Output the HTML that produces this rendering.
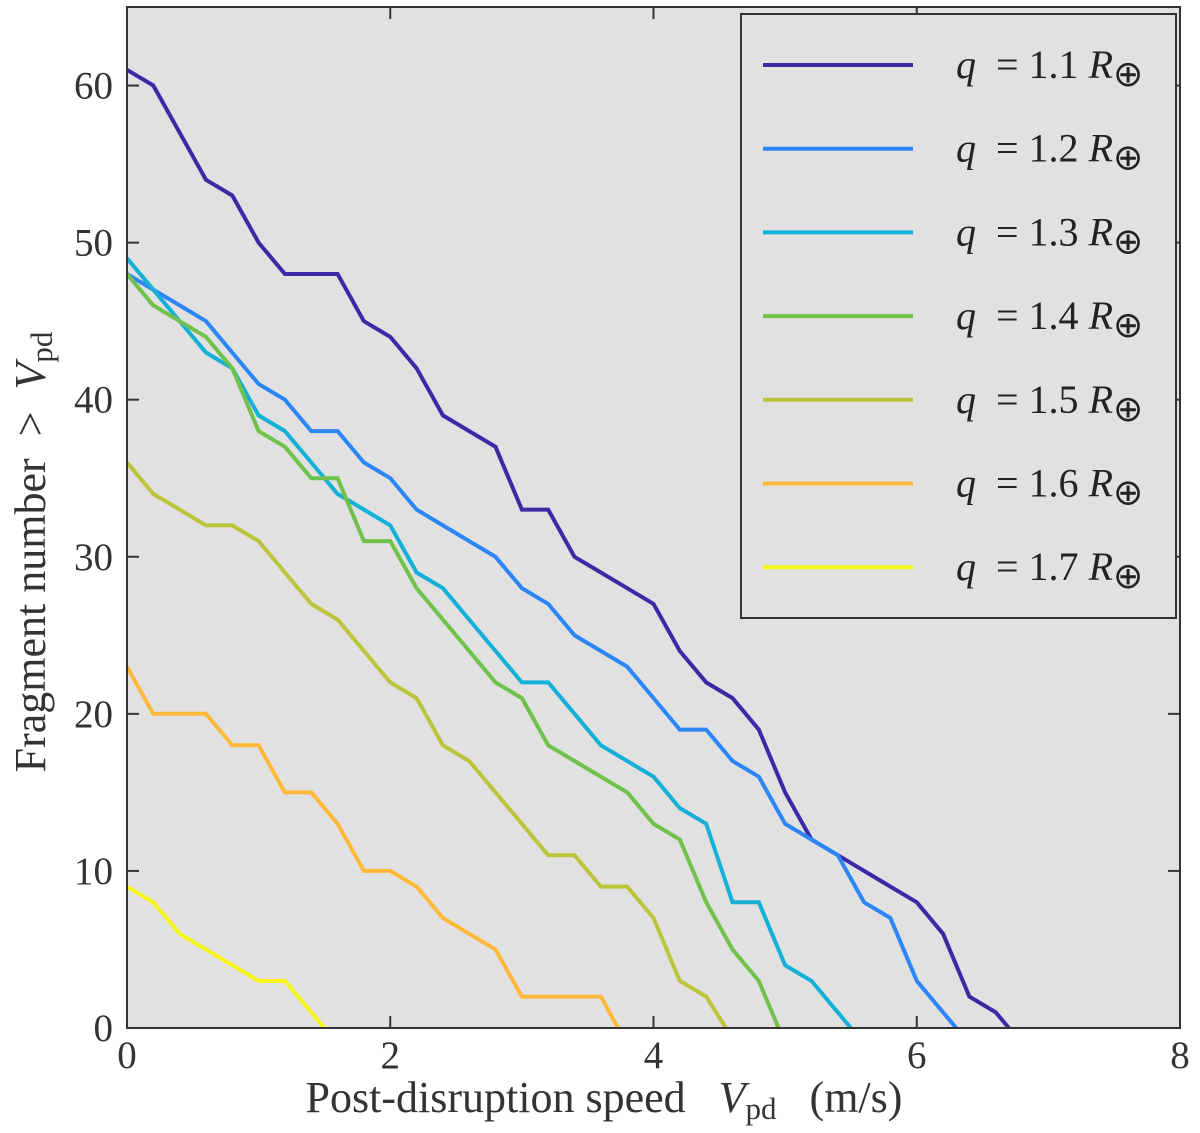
<!DOCTYPE html>
<html><head><meta charset="utf-8"><style>
body{margin:0;background:#fff;}
svg{display:block;font-family:"Liberation Serif",serif;}
text{white-space:pre;}
</style></head><body>
<svg id="chart" width="1200" height="1133" viewBox="0 0 1200 1133" xmlns="http://www.w3.org/2000/svg">
<rect x="127" y="7" width="1053" height="1021" fill="#e1e1e1"/>
<g id="series"></g>
<g id="axes"></g>
<text x="604" y="1112" font-size="44" fill="#333" text-anchor="middle">Post-disruption speed   <tspan font-style="italic">V</tspan><tspan font-size="31" dy="7">pd</tspan><tspan dy="-7">   (m/s)</tspan></text>
<text transform="translate(45,552) rotate(-90)" font-size="44" fill="#333" text-anchor="middle">Fragment number  &gt;  <tspan font-style="italic">V</tspan><tspan font-size="31" dy="7">pd</tspan></text>
<g id="legend">
<rect x="741" y="14" width="435" height="604" fill="#e1e1e1" stroke="#333" stroke-width="2"/>
</g>
</svg>
<script>
const xTicks=[0,2,4,6,8];
const yTicks=[0,10,20,30,40,50,60];
const labels=["1.1","1.2","1.3","1.4","1.5","1.6","1.7"];
const colors=["#3a2aa6","#2d86f5","#14b0d8","#70c24c","#bbc43b","#ffb93a","#f5f31a"];
const x11=[0,0.2,0.4,0.6,0.8,1.0,1.2,1.4,1.6,1.8,2.0,2.2,2.4,2.6,2.8,3.0,3.2,3.4,3.6,3.8,4.0,4.2,4.4,4.6,4.8,5.0,5.2,5.4,5.6,5.8,6.0,6.2,6.4,6.6,6.7];
const y11=[61,60,57,54,53,50,48,48,48,45,44,42,39,38,37,33,33,30,29,28,27,24,22,21,19,15,12,11,10,9,8,6,2,1,0];
const x12=[0,0.2,0.4,0.6,0.8,1.0,1.2,1.4,1.6,1.8,2.0,2.2,2.4,2.6,2.8,3.0,3.2,3.4,3.6,3.8,4.0,4.2,4.4,4.6,4.8,5.0,5.2,5.4,5.6,5.8,6.0,6.3];
const y12=[48,47,46,45,43,41,40,38,38,36,35,33,32,31,30,28,27,25,24,23,21,19,19,17,16,13,12,11,8,7,3,0];
const x13=[0,0.2,0.4,0.6,0.8,1.0,1.2,1.4,1.6,1.8,2.0,2.2,2.4,2.6,2.8,3.0,3.2,3.4,3.6,3.8,4.0,4.2,4.4,4.6,4.8,5.0,5.2,5.5];
const y13=[49,47,45,43,42,39,38,36,34,33,32,29,28,26,24,22,22,20,18,17,16,14,13,8,8,4,3,0];
const x14=[0,0.2,0.4,0.6,0.8,1.0,1.2,1.4,1.6,1.8,2.0,2.2,2.4,2.6,2.8,3.0,3.2,3.4,3.6,3.8,4.0,4.2,4.4,4.6,4.8,4.95];
const y14=[48,46,45,44,42,38,37,35,35,31,31,28,26,24,22,21,18,17,16,15,13,12,8,5,3,0];
const x15=[0,0.2,0.4,0.6,0.8,1.0,1.2,1.4,1.6,1.8,2.0,2.2,2.4,2.6,2.8,3.0,3.2,3.4,3.6,3.8,4.0,4.2,4.4,4.55];
const y15=[36,34,33,32,32,31,29,27,26,24,22,21,18,17,15,13,11,11,9,9,7,3,2,0];
const x16=[0,0.2,0.4,0.6,0.8,1.0,1.2,1.4,1.6,1.8,2.0,2.2,2.4,2.6,2.8,3.0,3.2,3.4,3.6,3.73];
const y16=[23,20,20,20,18,18,15,15,13,10,10,9,7,6,5,2,2,2,2,0];
const x17=[0,0.2,0.4,0.6,0.8,1.0,1.2,1.5];
const y17=[9,8,6,5,4,3,3,0];
const xs=[x11,x12,x13,x14,x15,x16,x17], ys=[y11,y12,y13,y14,y15,y16,y17];
const X0=127,X1=1180,Y0=1028,YT=7,XMAX=8,YMAX=65;
const sx=v=>X0+v*(X1-X0)/XMAX, sy=v=>Y0-v*(Y0-YT)/YMAX;
const NS="http://www.w3.org/2000/svg";
const mk=(t,a,p)=>{const e=document.createElementNS(NS,t);for(const k in a)e.setAttribute(k,a[k]);p.appendChild(e);return e;};
const sg=document.getElementById('series');
xs.forEach((xa,i)=>{
  const pts=xa.map((x,j)=>sx(x).toFixed(1)+","+sy(ys[i][j]).toFixed(1)).join(" ");
  const pl=mk('polyline',{points:pts,fill:"none",stroke:colors[i],"stroke-width":4,"stroke-linejoin":"miter"},sg);
  
  
});
const ax=document.getElementById('axes');
const frame=mk('rect',{x:X0,y:YT,width:X1-X0,height:Y0-YT,fill:"none",stroke:"#333","stroke-width":2},ax);


xTicks.forEach(t=>{
  const x=sx(t);
  mk('line',{x1:x,y1:Y0,x2:x,y2:Y0-12,stroke:"#333","stroke-width":2},ax);
  mk('line',{x1:x,y1:YT,x2:x,y2:YT+12,stroke:"#333","stroke-width":2},ax);
  const tx=mk('text',{x:x,y:Y0+40,"font-size":39,fill:"#333","text-anchor":"middle"},ax);
  tx.textContent=t;
  
  
});
yTicks.forEach(t=>{
  const y=sy(t);
  mk('line',{x1:X0,y1:y,x2:X0+12,y2:y,stroke:"#333","stroke-width":2},ax);
  mk('line',{x1:X1,y1:y,x2:X1-12,y2:y,stroke:"#333","stroke-width":2},ax);
  const tx=mk('text',{x:X0-14,y:y+13,"font-size":39,fill:"#333","text-anchor":"end"},ax);
  tx.textContent=t;
  
  
});
const lg=document.getElementById('legend');
labels.forEach((l,i)=>{
  const y=65+i*83.7;
  const g=mk('g',{},lg);
  
  
  mk('line',{x1:763,y1:y,x2:913,y2:y,stroke:colors[i],"stroke-width":4},g);
  const t=mk('text',{x:956,y:y+13,"font-size":40,fill:"#222"},g);
  t.innerHTML='<tspan font-style="italic">q</tspan>  = 1.'+l.slice(2)+' <tspan font-style="italic">R</tspan><tspan font-size="36" dy="8">⊕</tspan>';
});
</script>
</body></html>
